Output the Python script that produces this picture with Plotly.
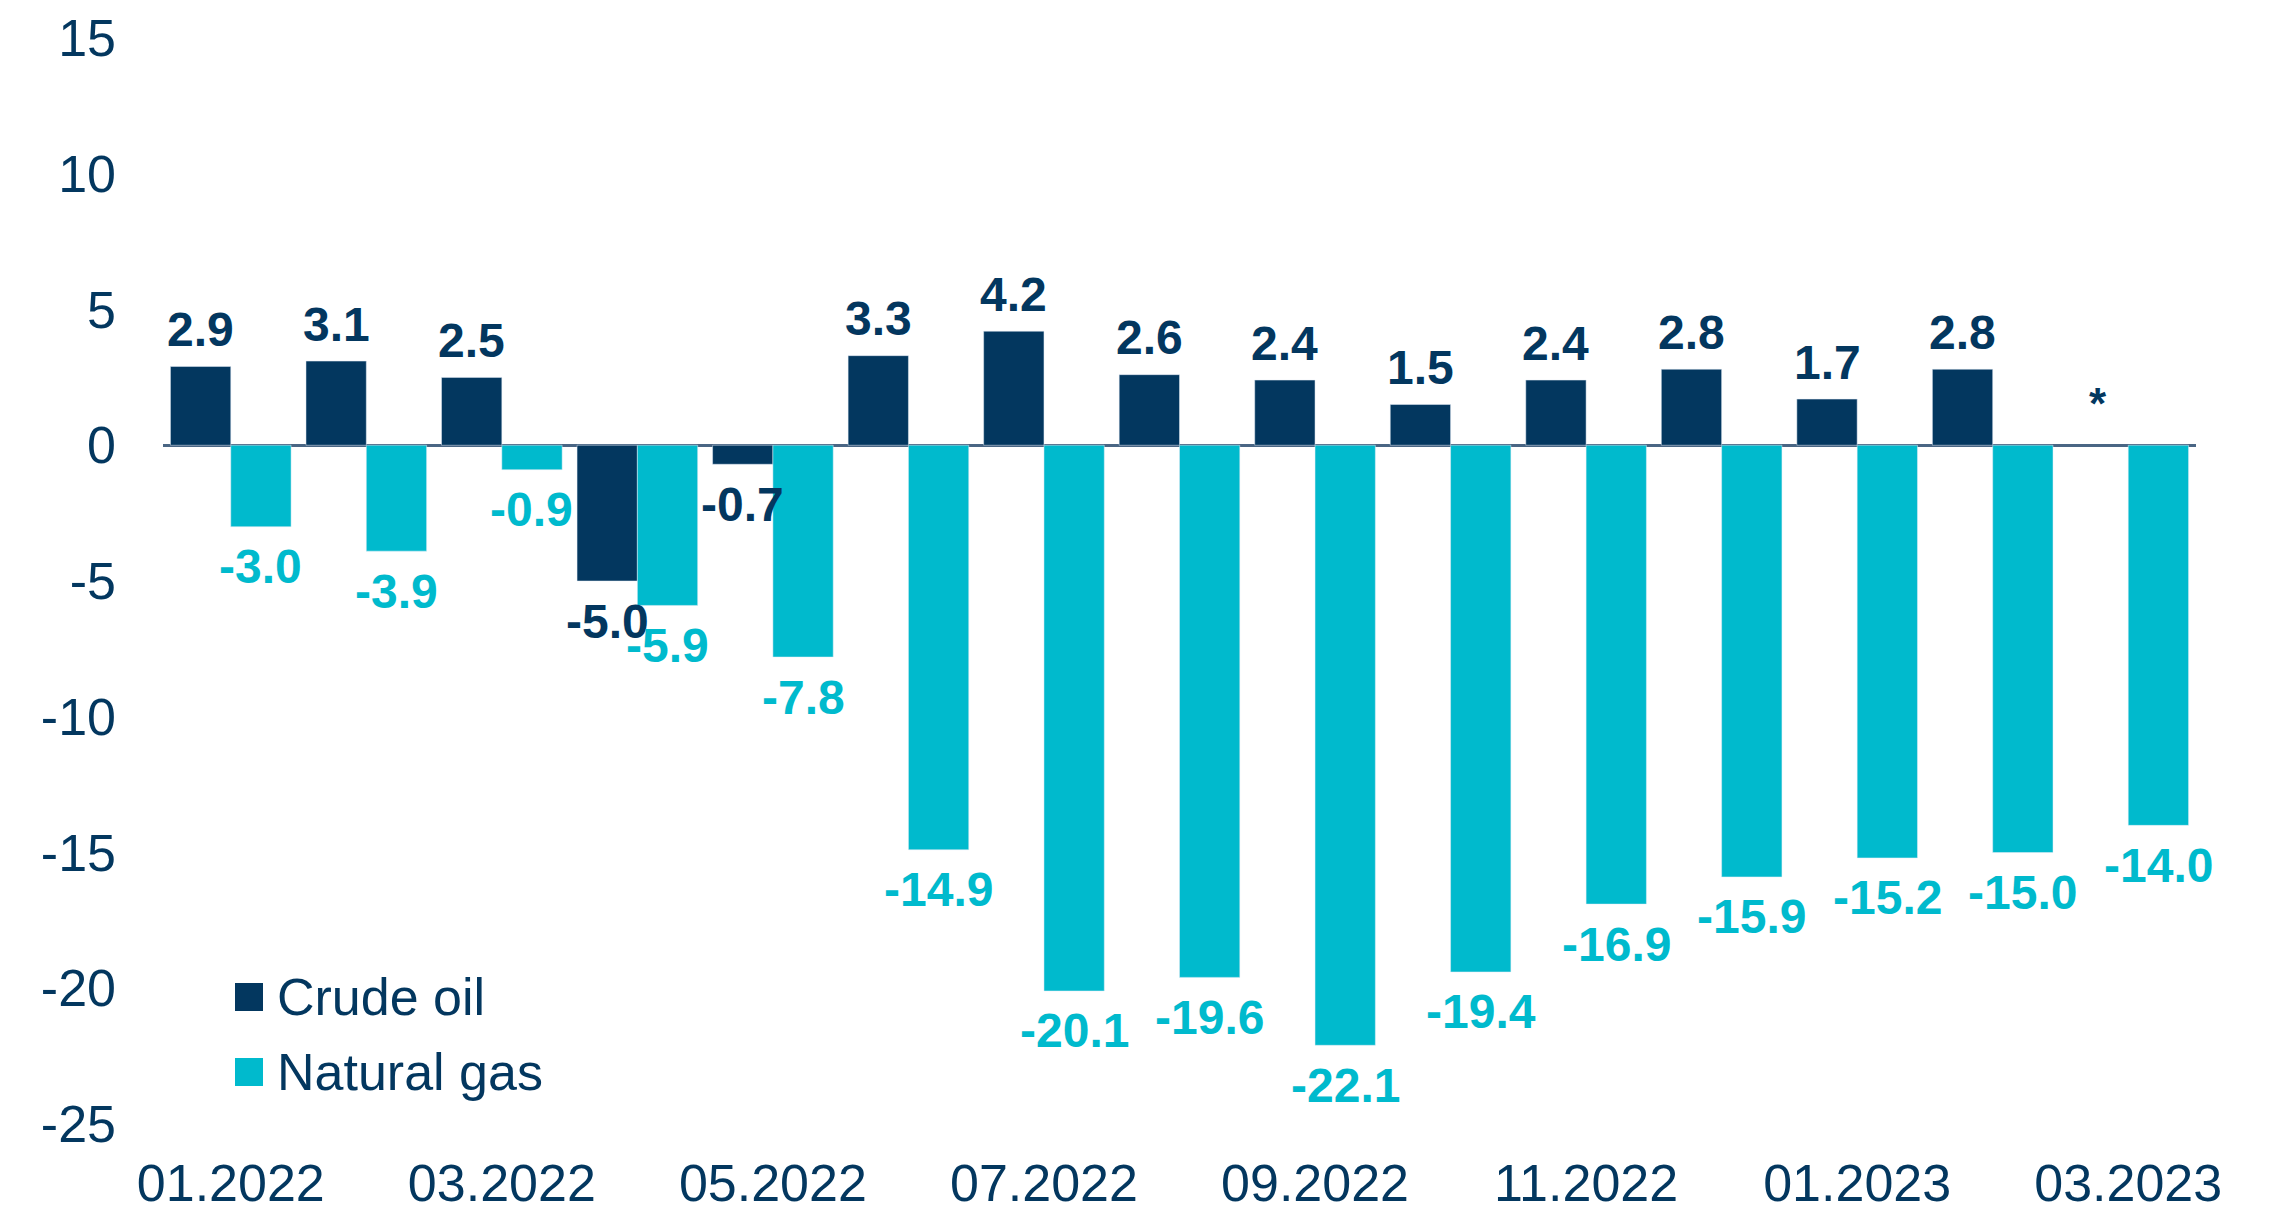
import plotly.graph_objects as go

months = ["01.2022", "02.2022", "03.2022", "04.2022", "05.2022", "06.2022", "07.2022",
          "08.2022", "09.2022", "10.2022", "11.2022", "12.2022", "01.2023", "02.2023", "03.2023"]
crude_oil = [2.9, 3.1, 2.5, -5.0, -0.7, 3.3, 4.2, 2.6, 2.4, 1.5, 2.4, 2.8, 1.7, 2.8, None]
natural_gas = [-3.0, -3.9, -0.9, -5.9, -7.8, -14.9, -20.1, -19.6, -22.1, -19.4, -16.9, -15.9, -15.2, -15.0, -14.0]
series_names = ["Crude oil", "Natural gas"]
missing_mark = "*"
y_ticks = [15, 10, 5, 0, -5, -10, -15, -20, -25]
y_ticktext = [str(v) for v in y_ticks]
x_ticks = months[::2]

NAVY = "#03375F"
CYAN = "#00BACD"
FONT = "Arial, Liberation Sans, sans-serif"
W, H = 2289, 1212
ML, MR, MT, MB = 163, 93, 38, 88
BARGAP = 0.11
plot_w = W - ML - MR
plot_h = H - MT - MB


def px_to_paper_x(px):
    return (px - ML) / plot_w


def px_to_paper_y(py):
    return (H - MB - py) / plot_h


fig = go.Figure()
fig.add_trace(go.Bar(x=months, y=crude_oil, name=series_names[0], marker_color=NAVY,
                     showlegend=False))
fig.add_trace(go.Bar(x=months, y=natural_gas, name=series_names[1], marker_color=CYAN,
                     showlegend=False))

# value labels placed relative to each bar's end
slot = plot_w / len(months)
half = slot * (1 - BARGAP) / 4
for series, col, dx in [(crude_oil, NAVY, -half), (natural_gas, CYAN, half)]:
    for i, v in enumerate(series):
        if v is None:
            fig.add_annotation(x=i, y=0, text=missing_mark, showarrow=False,
                               xref="x", yref="y", yanchor="middle", yshift=42,
                               xshift=dx,
                               font=dict(family=FONT, size=44, color=NAVY, weight="bold"))
            continue
        fig.add_annotation(x=i, y=v, text=f"{v:.1f}", showarrow=False,
                           xref="x", yref="y", yanchor="middle",
                           yshift=37 if v >= 0 else -40, xshift=dx,
                           font=dict(family=FONT, size=48, color=col, weight="bold"))

# legend: large square swatches and labels
legend_rows = [(series_names[0], NAVY, 997, 997), (series_names[1], CYAN, 1072, 1072)]
for name, col, cy, ty in legend_rows:
    fig.add_shape(type="rect", xref="paper", yref="paper",
                  x0=px_to_paper_x(235), x1=px_to_paper_x(263),
                  y0=px_to_paper_y(cy - 14), y1=px_to_paper_y(cy + 14),
                  fillcolor=col, line=dict(width=0))
    fig.add_annotation(x=px_to_paper_x(275), y=px_to_paper_y(ty), xref="paper", yref="paper",
                       text=name, showarrow=False, xanchor="left", yanchor="middle",
                       font=dict(family=FONT, size=52, color=NAVY))

fig.update_layout(
    width=W, height=H,
    margin=dict(l=ML, r=MR, t=MT, b=MB, autoexpand=False),
    paper_bgcolor="white", plot_bgcolor="white",
    barmode="group", bargap=BARGAP, bargroupgap=0,
    font=dict(family=FONT, color=NAVY),
    showlegend=False,
)
fig.update_xaxes(type="category", range=[-0.5, len(months) - 0.5],
                 tickvals=x_ticks, ticktext=x_ticks,
                 tickfont=dict(family=FONT, size=52, color=NAVY), automargin=False,
                 showgrid=False, showline=False, ticks="", ticklabelstandoff=24)
fig.update_yaxes(range=[-25, 15], tickvals=y_ticks, ticktext=y_ticktext,
                 tickfont=dict(family=FONT, size=52, color=NAVY), automargin=False,
                 showgrid=False, showline=False, ticks="",
                 zeroline=True, zerolinecolor="#4A6684", zerolinewidth=3,
                 ticklabelstandoff=46)

fig.write_html("out.html", config={"displayModeBar": False},
               post_script="document.body.style.margin='0';document.body.style.overflow='hidden';")
